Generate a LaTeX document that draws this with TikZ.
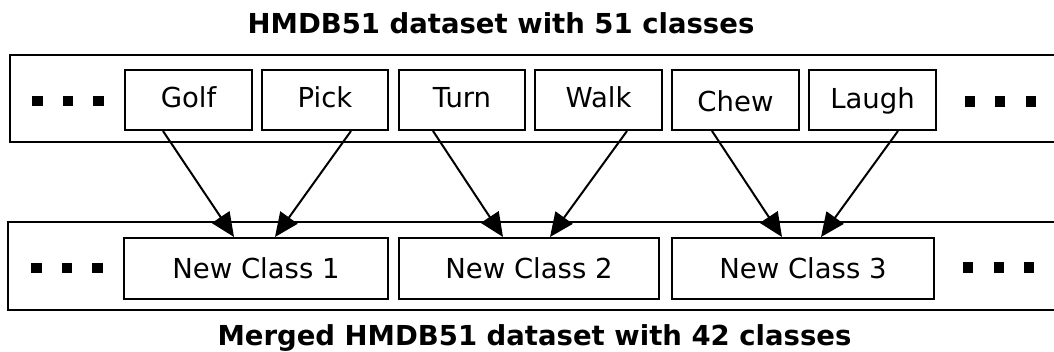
\documentclass[tikz,border=0pt]{standalone}
\usepackage{fontspec}
\setmainfont{DejaVu Sans}
\usetikzlibrary{calc,arrows.meta}
\begin{document}
\begin{tikzpicture}[x=1pt,y=-1pt,
  band/.style={draw, line width=2pt, inner sep=0pt},
  cls/.style={draw, line width=2pt, minimum height=60pt, inner sep=0pt,
              font=\fontsize{27.5}{30}\selectfont, text height=16pt, text depth=0pt},
  newcls/.style={cls, minimum height=61pt, text height=20pt},
  sq/.style={fill=black, minimum size=10.5pt, inner sep=0pt},
  title/.style={font=\fontsize{27.5}{30}\selectfont\bfseries, anchor=base, inner sep=0pt},
  arr/.style={line width=2pt, -{Triangle[length=24pt,width=21pt]}}]
\useasboundingbox (0,0) rectangle (1054,352);
% titles
\node[title] (ttop) at (501,33.3) {HMDB51 dataset with 51 classes};
\node[title] (tbot) at (534.5,345) {Merged HMDB51 dataset with 42 classes};
% bands
\node[band, minimum width=1052pt, minimum height=86.7pt] (topband) at (535.5,98.35) {};
\node[band, minimum width=1054pt, minimum height=88pt] (botband) at (534.6,266) {};
% top class boxes
\node[cls, minimum width=127pt] (golf)  at (188.5,100) {Golf};
\node[cls, minimum width=126pt] (pick)  at (325,100) {Pick};
\node[cls, minimum width=126pt] (turn)  at (462,100) {Turn};
\node[cls, minimum width=127pt] (walk)  at (598.5,100) {Walk};
\node[cls, minimum width=127pt, text height=23.4pt] (chew)  at (735.5,100) {Chew};
\node[cls, minimum width=127pt, text height=18pt] (laugh) at (872.5,100) {Laugh};
% bottom class boxes
\node[newcls, minimum width=264pt] (nc1) at (256,268.5) {New Class 1};
\node[newcls, minimum width=260pt] (nc2) at (529,268.5) {New Class 2};
\node[newcls, minimum width=262pt] (nc3) at (803,268.5) {New Class 3};
% dots
\node[sq] (d1) at (37.5,101) {};
\node[sq] (d2) at (68,101) {};
\node[sq] (d3) at (98.5,101) {};
\node[sq] (d4) at (970,101.5) {};
\node[sq] (d5) at (1000,101.5) {};
\node[sq] (d6) at (1031,101.5) {};
\node[sq] (e1) at (36.5,268) {};
\node[sq] (e2) at (67,268) {};
\node[sq] (e3) at (97.5,268) {};
\node[sq] (e4) at (968,267.5) {};
\node[sq] (e5) at (999,267.5) {};
\node[sq] (e6) at (1029,267.5) {};
% arrows
\draw[arr] ($(golf.south)+(-25.5,0)$) -- ($(nc1.north)+(-22,0)$);
\draw[arr] ($(pick.south)+(26,0)$) -- ($(nc1.north)+(19,0)$);
\draw[arr] ($(turn.south)+(-29,0)$) -- ($(nc2.north)+(-26,0)$);
\draw[arr] ($(walk.south)+(28.5,0)$) -- ($(nc2.north)+(21,0)$);
\draw[arr] ($(chew.south)+(-23.5,0)$) -- ($(nc3.north)+(-21,0)$);
\draw[arr] ($(laugh.south)+(25.5,0)$) -- ($(nc3.north)+(18,0)$);
\end{tikzpicture}
\end{document}
